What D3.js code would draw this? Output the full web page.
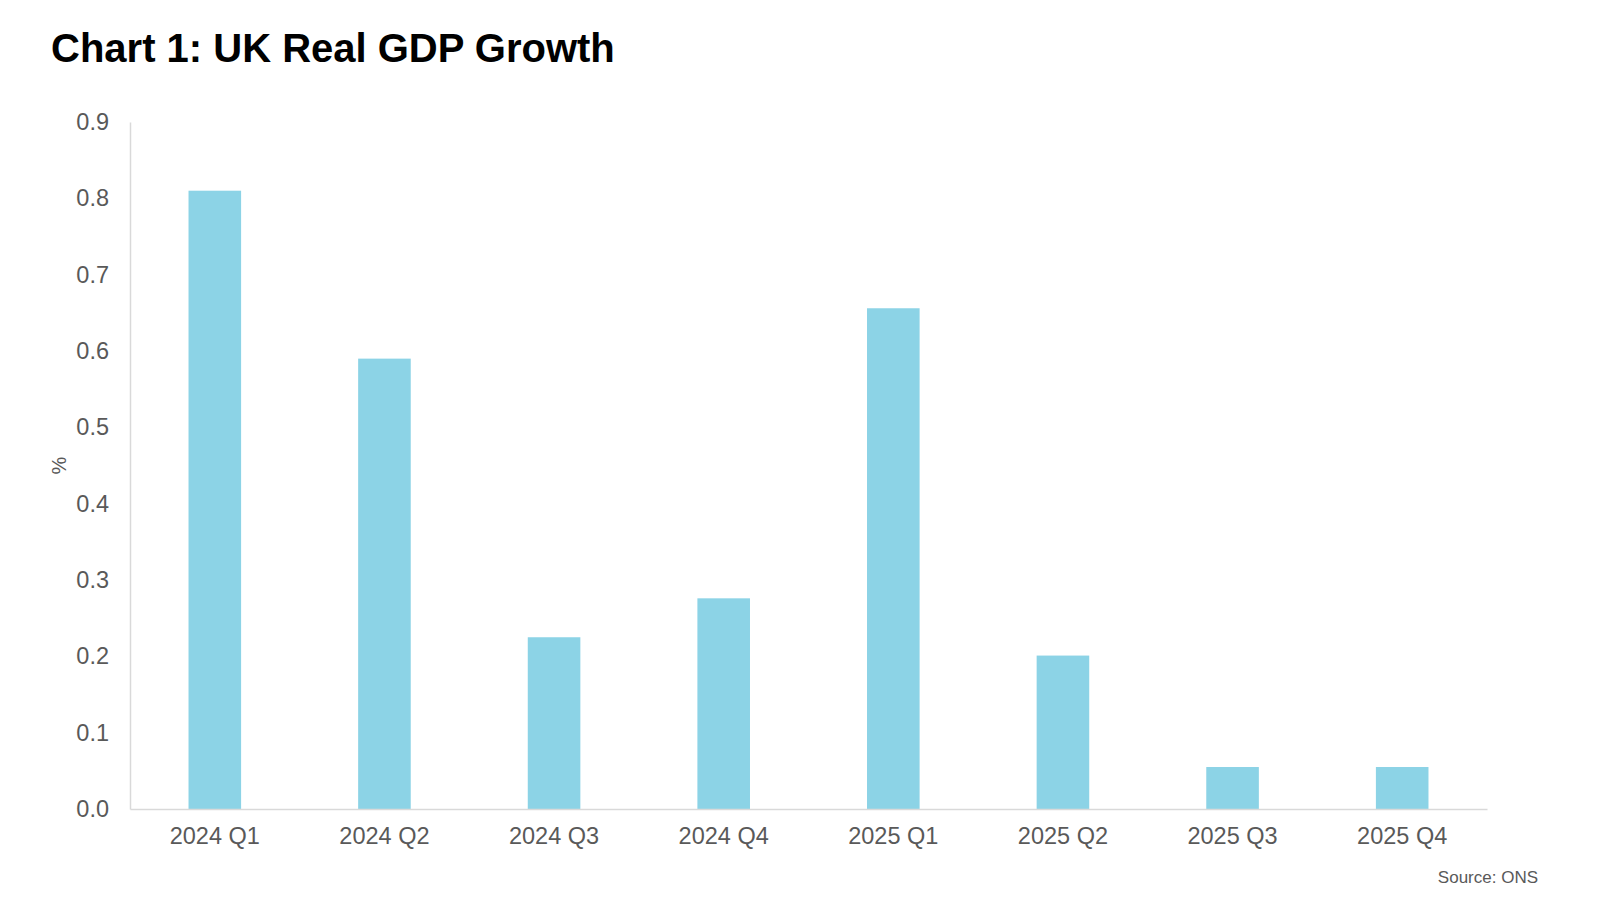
<!DOCTYPE html>
<html>
<head>
<meta charset="utf-8">
<script src="https://cdn.jsdelivr.net/npm/d3@7"></script>
<style>
  body { margin: 0; background: #fff; }
  svg text { font-family: "Liberation Sans", Arial, sans-serif; }
</style>
</head>
<body>
<div id="chart"></div>
<script>
const quarters = ["2024 Q1", "2024 Q2", "2024 Q3", "2024 Q4", "2025 Q1", "2025 Q2", "2025 Q3", "2025 Q4"]
const growth = [0.81, 0.59, 0.225, 0.276, 0.656, 0.201, 0.055, 0.055]
const yTicks = [0, 0.1, 0.2, 0.3, 0.4, 0.5, 0.6, 0.7, 0.8, 0.9]

const width = 1600
const height = 900
const margins = { top: 122, right: 113, bottom: 91, left: 130 }

const svg = d3.select("#chart")
    .append("svg")
    .attr("width", width)
    .attr("height", height)

const x = d3.scaleBand()
    .domain(quarters)
    .range([margins.left, width - margins.right])
    .paddingInner(0.69)
    .paddingOuter(0.345)

const y = d3.scaleLinear()
    .domain([0, 0.9])
    .range([height - margins.bottom, margins.top])

// title
svg.append("text")
    .text("Chart 1: UK Real GDP Growth")
    .attr("x", 51)
    .attr("y", 62)
    .style("font-size", "40px")
    .style("font-weight", "bold")
    .style("fill", "#000")

// bars
svg.selectAll(".bar")
    .data(growth)
    .enter()
    .append("rect")
    .attr("class", "bar")
    .attr("x", (d, i) => x(quarters[i]))
    .attr("width", x.bandwidth())
    .attr("y", d => y(d))
    .attr("height", d => y(0) - y(d))
    .style("fill", "#8cd3e6")

// y axis
const yAxis = svg.append("g")
    .attr("transform", `translate(${margins.left},0)`)
    .call(d3.axisLeft(y).tickValues(yTicks).tickFormat(d3.format(".1f")).tickSize(0).tickPadding(21))
yAxis.select(".domain").style("stroke", "#d9d9d9").style("stroke-width", 1.5)
yAxis.selectAll("text").style("font-size", "23.5px").style("fill", "#595959")

// x axis
const xAxis = svg.append("g")
    .attr("transform", `translate(0,${y(0)})`)
    .call(d3.axisBottom(x).tickSize(0).tickPadding(18))
xAxis.select(".domain").style("stroke", "#d9d9d9").style("stroke-width", 1.5)
xAxis.selectAll("text").style("font-size", "23.5px").style("fill", "#595959")

// y label
svg.append("text")
    .text("%")
    .attr("transform", `translate(66,${(y(0) + y(0.9)) / 2}) rotate(-90)`)
    .attr("text-anchor", "middle")
    .style("font-size", "20px")
    .style("fill", "#595959")

// source
svg.append("text")
    .text("Source: ONS")
    .attr("x", 1538)
    .attr("y", 883)
    .attr("text-anchor", "end")
    .style("font-size", "17px")
    .style("fill", "#595959")
</script>
</body>
</html>
